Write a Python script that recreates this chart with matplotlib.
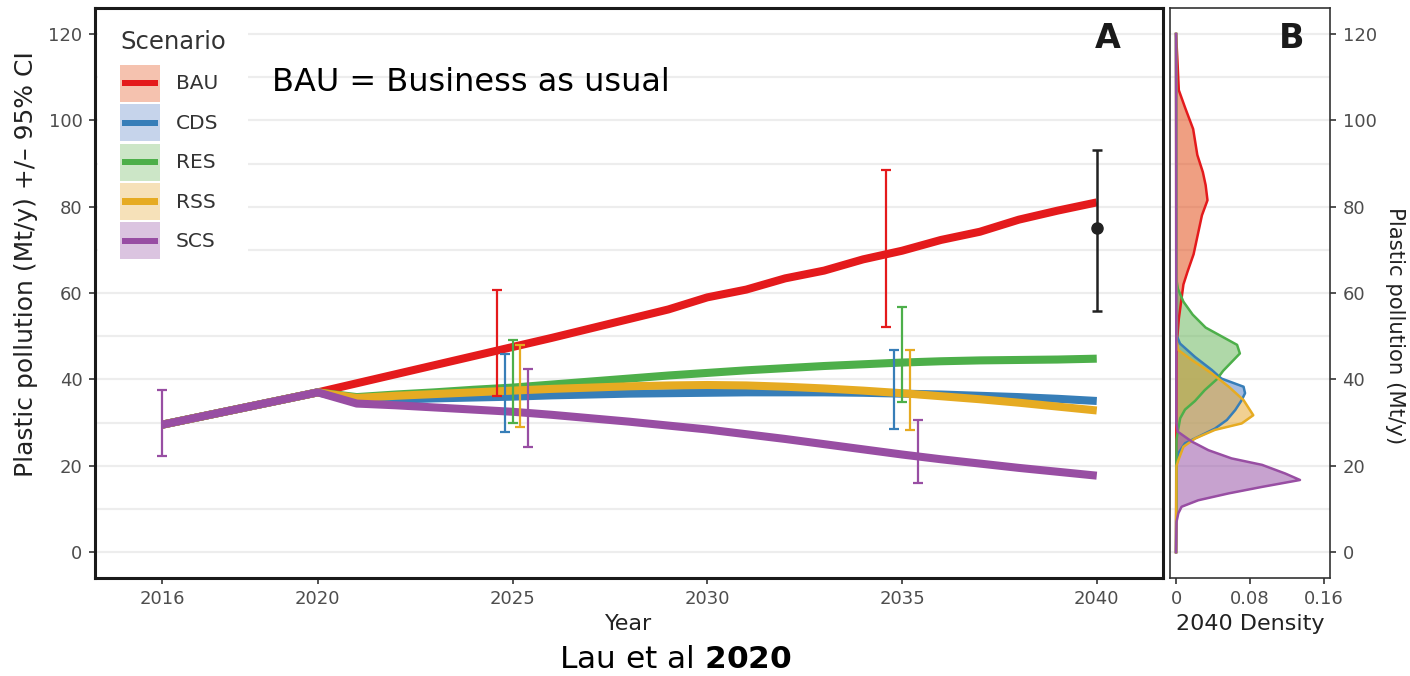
import matplotlib.pyplot as plt
import numpy as np
from matplotlib.patches import Patch, Rectangle
from matplotlib.legend_handler import HandlerTuple, HandlerPatch

plt.rcParams['font.family'] = ['DejaVu Sans']

# model trajectories (Mt/y), shared up to 2020 then split by scenario
years = [2016] + list(range(2020, 2041))
scenarios = ["BAU", "CDS", "RES", "RSS", "SCS"]
bau = [29.5, 37.0, 39.1, 41.2, 43.3, 45.4, 47.5, 49.6, 51.8, 54.0, 56.2, 59.0,
       60.8, 63.4, 65.2, 67.8, 69.8, 72.3, 74.2, 77.0, 79.1, 81.0]
cds = [29.5, 37.0, 35.0, 35.3, 35.6, 35.8, 36.0, 36.3, 36.5, 36.7, 36.8, 36.9,
       37.0, 37.0, 37.0, 36.9, 36.7, 36.5, 36.2, 35.9, 35.5, 35.0]
res = [29.5, 37.0, 35.9, 36.5, 37.0, 37.6, 38.1, 38.8, 39.5, 40.2, 40.9, 41.5,
       42.1, 42.6, 43.1, 43.5, 43.9, 44.2, 44.4, 44.5, 44.6, 44.8]
rss = [29.5, 37.0, 35.7, 36.2, 36.6, 37.0, 37.4, 37.8, 38.1, 38.4, 38.6, 38.7,
       38.6, 38.3, 37.9, 37.4, 36.8, 36.1, 35.4, 34.6, 33.7, 32.8]
scs = [29.5, 37.0, 34.4, 34.0, 33.5, 33.0, 32.5, 31.8, 31.0, 30.2, 29.3, 28.4,
       27.3, 26.2, 25.0, 23.8, 22.6, 21.5, 20.5, 19.5, 18.6, 17.7]
series = [bau, cds, res, rss, scs]

# 95% CI at 2025 and 2035 (low, high) per scenario
ci_years = [2025, 2035]
ci_low = [[36.1, 52.2], [27.7, 28.5], [30.0, 34.8], [28.9, 28.3], [24.4, 16.1]]
ci_high = [[60.6, 88.5], [45.8, 46.8], [49.1, 56.7], [47.9, 46.9], [42.3, 30.6]]
base_year, base_low, base_high = 2016, 22.3, 37.6

# independent 2040 estimate
est_year, est_val, est_low, est_high = 2040, 75.1, 55.9, 93.1

# 2040 density (pollution level, density)
dens_y = [
    [0, 46, 50, 54, 58, 62, 65, 69, 74, 78, 81.5, 85, 88, 92, 98, 103, 107, 114, 120],
    [0, 20.5, 22.9, 25.2, 26.7, 28.6, 30.6, 32.9, 35.2, 36.8, 38.3, 40.2, 42.2, 45.2, 48.3, 50, 120],
    [0, 26, 28, 31, 33, 35, 37.5, 40, 42, 44, 46, 48, 50, 52, 55, 58, 61, 63, 120],
    [0, 20, 21.3, 24.4, 26.3, 28.3, 29.8, 31.7, 35.2, 38.3, 41.4, 44.5, 46.8, 49, 120],
    [0, 7, 9.0, 10.5, 12.0, 13.6, 15.1, 16.7, 18.2, 20.2, 21.7, 23.6, 25.6, 27.9, 30, 120],
]
dens_x = [
    [0, 0.0005, 0.0015, 0.003, 0.0055, 0.008, 0.0125, 0.019, 0.024, 0.028, 0.034,
     0.032, 0.029, 0.023, 0.0185, 0.0097, 0.003, 0.0015, 0],
    [0, 0.0005, 0.0025, 0.0097, 0.024, 0.042, 0.055, 0.064, 0.071, 0.0746, 0.073,
     0.049, 0.0386, 0.0205, 0.0043, 0.001, 0],
    [0, 0.0005, 0.002, 0.0045, 0.0097, 0.0205, 0.031, 0.044, 0.051, 0.060, 0.069,
     0.066, 0.049, 0.032, 0.018, 0.008, 0.002, 0.0005, 0],
    [0, 0.0005, 0.0025, 0.008, 0.0205, 0.042, 0.071, 0.0835, 0.073, 0.057, 0.0386,
     0.017, 0.0025, 0.0003, 0],
    [0, 0.0005, 0.0025, 0.006, 0.024, 0.057, 0.093, 0.134, 0.118, 0.093, 0.060,
     0.035, 0.017, 0.0018, 0.0003, 0],
]

line_cols = ["#E41A1C", "#377EB8", "#4DAF4A", "#E6AB22", "#984EA3"]
fill_cols = ["#E3501C", "#5C84C6", "#6EB961", "#E6AA39", "#9957A8"]
dodge = [-0.4, -0.2, 0.0, 0.2, 0.4]
grid_col = "#EDEDED"
tick_col = "#4D4D4D"

fig = plt.figure(figsize=(14.1, 6.76), dpi=100)
axA = fig.add_axes([0.0674, 0.145, 0.7574, 0.843])
axB = fig.add_axes([0.8298, 0.145, 0.1135, 0.843])

# ---- panel A ----
for vals, col in zip(series, line_cols):
    axA.plot(years, vals, color=col, lw=5.8, solid_capstyle='butt', zorder=3)

for i, col in enumerate(line_cols):
    lo = np.array(ci_low[i])
    hi = np.array(ci_high[i])
    xs = np.array(ci_years) + dodge[i]
    axA.errorbar(xs, (lo + hi) / 2, yerr=(hi - lo) / 2, fmt='none', ecolor=col,
                 elinewidth=1.6, capsize=3.8, capthick=1.6, zorder=4)
axA.errorbar([base_year], [(base_low + base_high) / 2], yerr=[(base_high - base_low) / 2],
             fmt='none', ecolor=line_cols[4], elinewidth=1.6, capsize=3.8, capthick=1.6, zorder=4)
axA.errorbar([est_year], [est_val], yerr=[[est_val - est_low], [est_high - est_val]],
             fmt='o', color='#222222', ms=8, elinewidth=1.8, capsize=3.8, capthick=1.8, zorder=5)

axA.set_xlim(2014.28, 2041.7)
axA.set_ylim(-6, 126)
axA.set_xticks([2016, 2020, 2025, 2030, 2035, 2040])
axA.set_yticks(np.arange(0, 121, 20))
axA.set_yticks(np.arange(0, 121, 10), minor=True)
axA.yaxis.grid(True, which='both', color=grid_col, lw=1.6)
axA.set_axisbelow(True)
axA.tick_params(which='major', length=4, width=1.2, color='#333333',
                labelsize=13, labelcolor=tick_col, pad=5)
axA.tick_params(which='minor', length=0)
for s in axA.spines.values():
    s.set_linewidth(2.2)
    s.set_color('#1a1a1a')
axA.set_xlabel("Year", fontsize=16, color='#222222', labelpad=4)
axA.set_ylabel("Plastic pollution (Mt/y) +/– 95% CI", fontsize=18, color='#222222',
               va='center', ha='center', rotation_mode='anchor')
axA.yaxis.set_label_coords(-0.0646, 0.551)


# legend key: light ribbon box with a centred thick bar
def key_bar(legend, orig_handle, xdescent, ydescent, width, height, fontsize):
    return Rectangle((-xdescent + 0.05 * width, -ydescent + height / 2 - 2.2),
                     0.9 * width, 4.4)


handles = []
handler_map = {tuple: HandlerTuple(ndivide=1, pad=0)}
for fc, lc in zip(fill_cols, line_cols):
    bar = Patch(facecolor=lc, edgecolor='none')
    handler_map[bar] = HandlerPatch(patch_func=key_bar)
    handles.append((Patch(facecolor=fc, alpha=0.35, edgecolor='none'), bar))

leg = axA.legend(handles, scenarios, handler_map=handler_map,
                 title="Scenario", loc='upper left', bbox_to_anchor=(0.003, 1.0),
                 borderaxespad=0, borderpad=1.1, fontsize=14.5, title_fontsize=17.5,
                 handlelength=1.99, handleheight=2.45, labelspacing=0.12,
                 handletextpad=0.75, alignment='left', frameon=True,
                 facecolor='white', edgecolor='none', framealpha=1, fancybox=False)
leg._legend_box.sep = 7.5
leg.set_zorder(2.4)  # keep the frame border drawn over the legend box
for t in leg.get_texts():
    t.set_color('#333333')
leg.get_title().set_color('#333333')

axA.text(0.166, 0.870, "BAU = Business as usual", transform=axA.transAxes,
         fontsize=23, va='center', ha='left', color='black')
axA.text(0.948, 0.946, "A", transform=axA.transAxes, fontsize=24,
         fontweight='bold', va='center', ha='center', color='#1a1a1a')

# ---- panel B ----
for dx, dy, fc, lc in zip(dens_x, dens_y, fill_cols, line_cols):
    axB.fill_betweenx(dy, 0, dx, color=fc, alpha=0.55, lw=0, zorder=2)
    axB.plot(dx, dy, color=lc, lw=1.8, zorder=3)

axB.set_xlim(-0.0065, 0.1665)
axB.set_ylim(-6, 126)
axB.set_xticks([0, 0.08, 0.16])
axB.set_xticklabels(["0", "0.08", "0.16"])
axB.set_yticks(np.arange(0, 121, 20))
axB.set_yticks(np.arange(0, 121, 10), minor=True)
axB.yaxis.grid(True, which='both', color=grid_col, lw=1.6)
axB.set_axisbelow(True)
axB.yaxis.tick_right()
axB.yaxis.set_label_position('right')
axB.tick_params(which='major', length=4, width=1.2, color='#333333',
                labelsize=13, labelcolor=tick_col, pad=5)
axB.tick_params(which='minor', length=0)
for s in axB.spines.values():
    s.set_linewidth(1.2)
    s.set_color('#333333')
axB.set_xlabel("2040 Density", fontsize=16, color='#222222', labelpad=4)
axB.set_ylabel("Plastic pollution (Mt/y)", fontsize=15.3, color='#222222',
               rotation=270, va='center', ha='center', rotation_mode='anchor')
axB.yaxis.set_label_coords(1.406, 0.442)
axB.text(0.76, 0.946, "B", transform=axB.transAxes, fontsize=24,
         fontweight='bold', va='center', ha='center', color='#1a1a1a')

fig.text(0.479, 0.024, r"Lau et al $\mathbf{2020}$", fontsize=22.5, ha='center',
         va='center', color='black')

fig.savefig("out.png", dpi=100)
